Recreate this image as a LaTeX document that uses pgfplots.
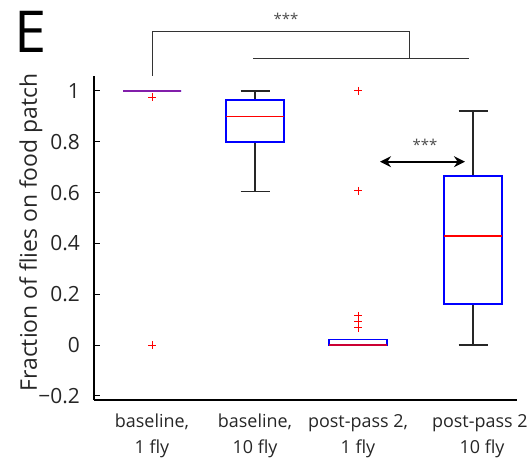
\documentclass[border=0pt]{standalone}
\usepackage{pgfplots}
\pgfplotsset{compat=1.18}
\usepgfplotslibrary{statistics}
\usetikzlibrary{arrows.meta}
\usepackage{fontspec}
\setmainfont{Open Sans}
\definecolor{txt}{RGB}{38,38,38}
\begin{document}
\begin{tikzpicture}
\begin{axis}[
  at={(94bp,60bp)}, anchor=south west,
  scale only axis, width=423bp, height=324bp,
  xmin=0, xmax=4.23, ymin=-0.2165, ymax=1.059,
  axis x line*=bottom, axis y line*=left,
  axis line style={-, line width=1.2bp, black},
  clip=false,
  ytick={-0.2,0,0.2,0.4,0.6,0.8,1},
  yticklabels={−0.2,0,0.2,0.4,0.6,0.8,1},
  tick align=inside, major tick length=6bp,
  y tick style={line width=1bp, black},
  yticklabel style={font=\fontsize{21}{24}\selectfont, text=txt, inner sep=0pt, anchor=east, xshift=-14bp},
  xtick={0.58,1.61,2.64,3.88},
  xticklabels={{baseline,\\1 fly},{baseline,\\10 fly},{post-pass 2,\\1 fly},{post-pass 2,\\10 fly}},
  x tick style={draw=none},
  xticklabel style={font=\fontsize{18}{26}\selectfont, text=txt, align=center, inner sep=0pt, anchor=north, yshift=-14bp},
  ylabel={Fraction of flies on food patch},
  ylabel style={font=\fontsize{23}{26}\selectfont, text=txt, at={(axis description cs:-0.135,0.517)}, anchor=base, inner sep=0pt},
  boxplot/draw direction=y,
  boxplot/every box/.style={draw=blue, line width=1.5bp},
  boxplot/every median/.style={draw=red, line width=1.2bp},
  boxplot/every whisker/.style={draw=black!85, line width=1.2bp},
  boxplot/box extend=0.58, boxplot/whisker extend=0.29,
]
% baseline, 1 fly
\addplot[boxplot prepared={draw position=0.58, lower whisker=1, lower quartile=1, median=1, upper quartile=1, upper whisker=1, every median/.style={draw={rgb,255:red,130;green,30;blue,170}, line width=1.5bp}},
  mark=+, mark size=4bp, mark options={red, line width=1bp}] coordinates {(0,0.976) (0,0)};
% baseline, 10 fly
\addplot[boxplot prepared={draw position=1.61, lower whisker=0.604, lower quartile=0.80, median=0.899, upper quartile=0.965, upper whisker=1.0},
  mark=+, mark size=4bp, mark options={red, line width=1bp}] coordinates {};
% post-pass 2, 1 fly
\addplot[boxplot prepared={draw position=2.64, lower whisker=0, lower quartile=0, median=0, upper quartile=0.022, upper whisker=0.022, every median/.style={draw=red!80!blue, line width=1.5bp}},
  mark=+, mark size=4bp, mark options={red, line width=1bp}] coordinates {(0,1.0) (0,0.607) (0,0.115) (0,0.092) (0,0.068)};
% post-pass 2, 10 fly
\addplot[boxplot prepared={draw position=3.79, lower whisker=0.0, lower quartile=0.161, median=0.429, upper quartile=0.665, upper whisker=0.921},
  mark=+, mark size=4bp, mark options={red, line width=1bp}] coordinates {};
% significance annotations
\draw[black!80, line width=1bp] (axis cs:0.58,1.059) -- (axis cs:0.58,1.2335) -- (axis cs:3.15,1.2335) -- (axis cs:3.15,1.126);
\draw[black!80, line width=1bp] (axis cs:1.59,1.126) -- (axis cs:3.75,1.126);
\node[text=black!70, font=\fontsize{15}{15}\selectfont] at (axis cs:1.92,1.285) {***};
\draw[{Stealth[length=11bp,width=11bp]}-{Stealth[length=11bp,width=11bp]}, line width=2.2bp] (axis cs:2.86,0.7217) -- (axis cs:3.71,0.7217);
\node[text=black!70, font=\fontsize{15}{15}\selectfont] at (axis cs:3.31,0.79) {***};
\end{axis}
\node[anchor=base west, inner sep=0pt, font=\fontsize{58}{58}\selectfont] at (14bp,407bp) {E};
\pgfresetboundingbox
\path[use as bounding box] (0bp,0bp) rectangle (527bp,460bp);
\end{tikzpicture}
\end{document}
